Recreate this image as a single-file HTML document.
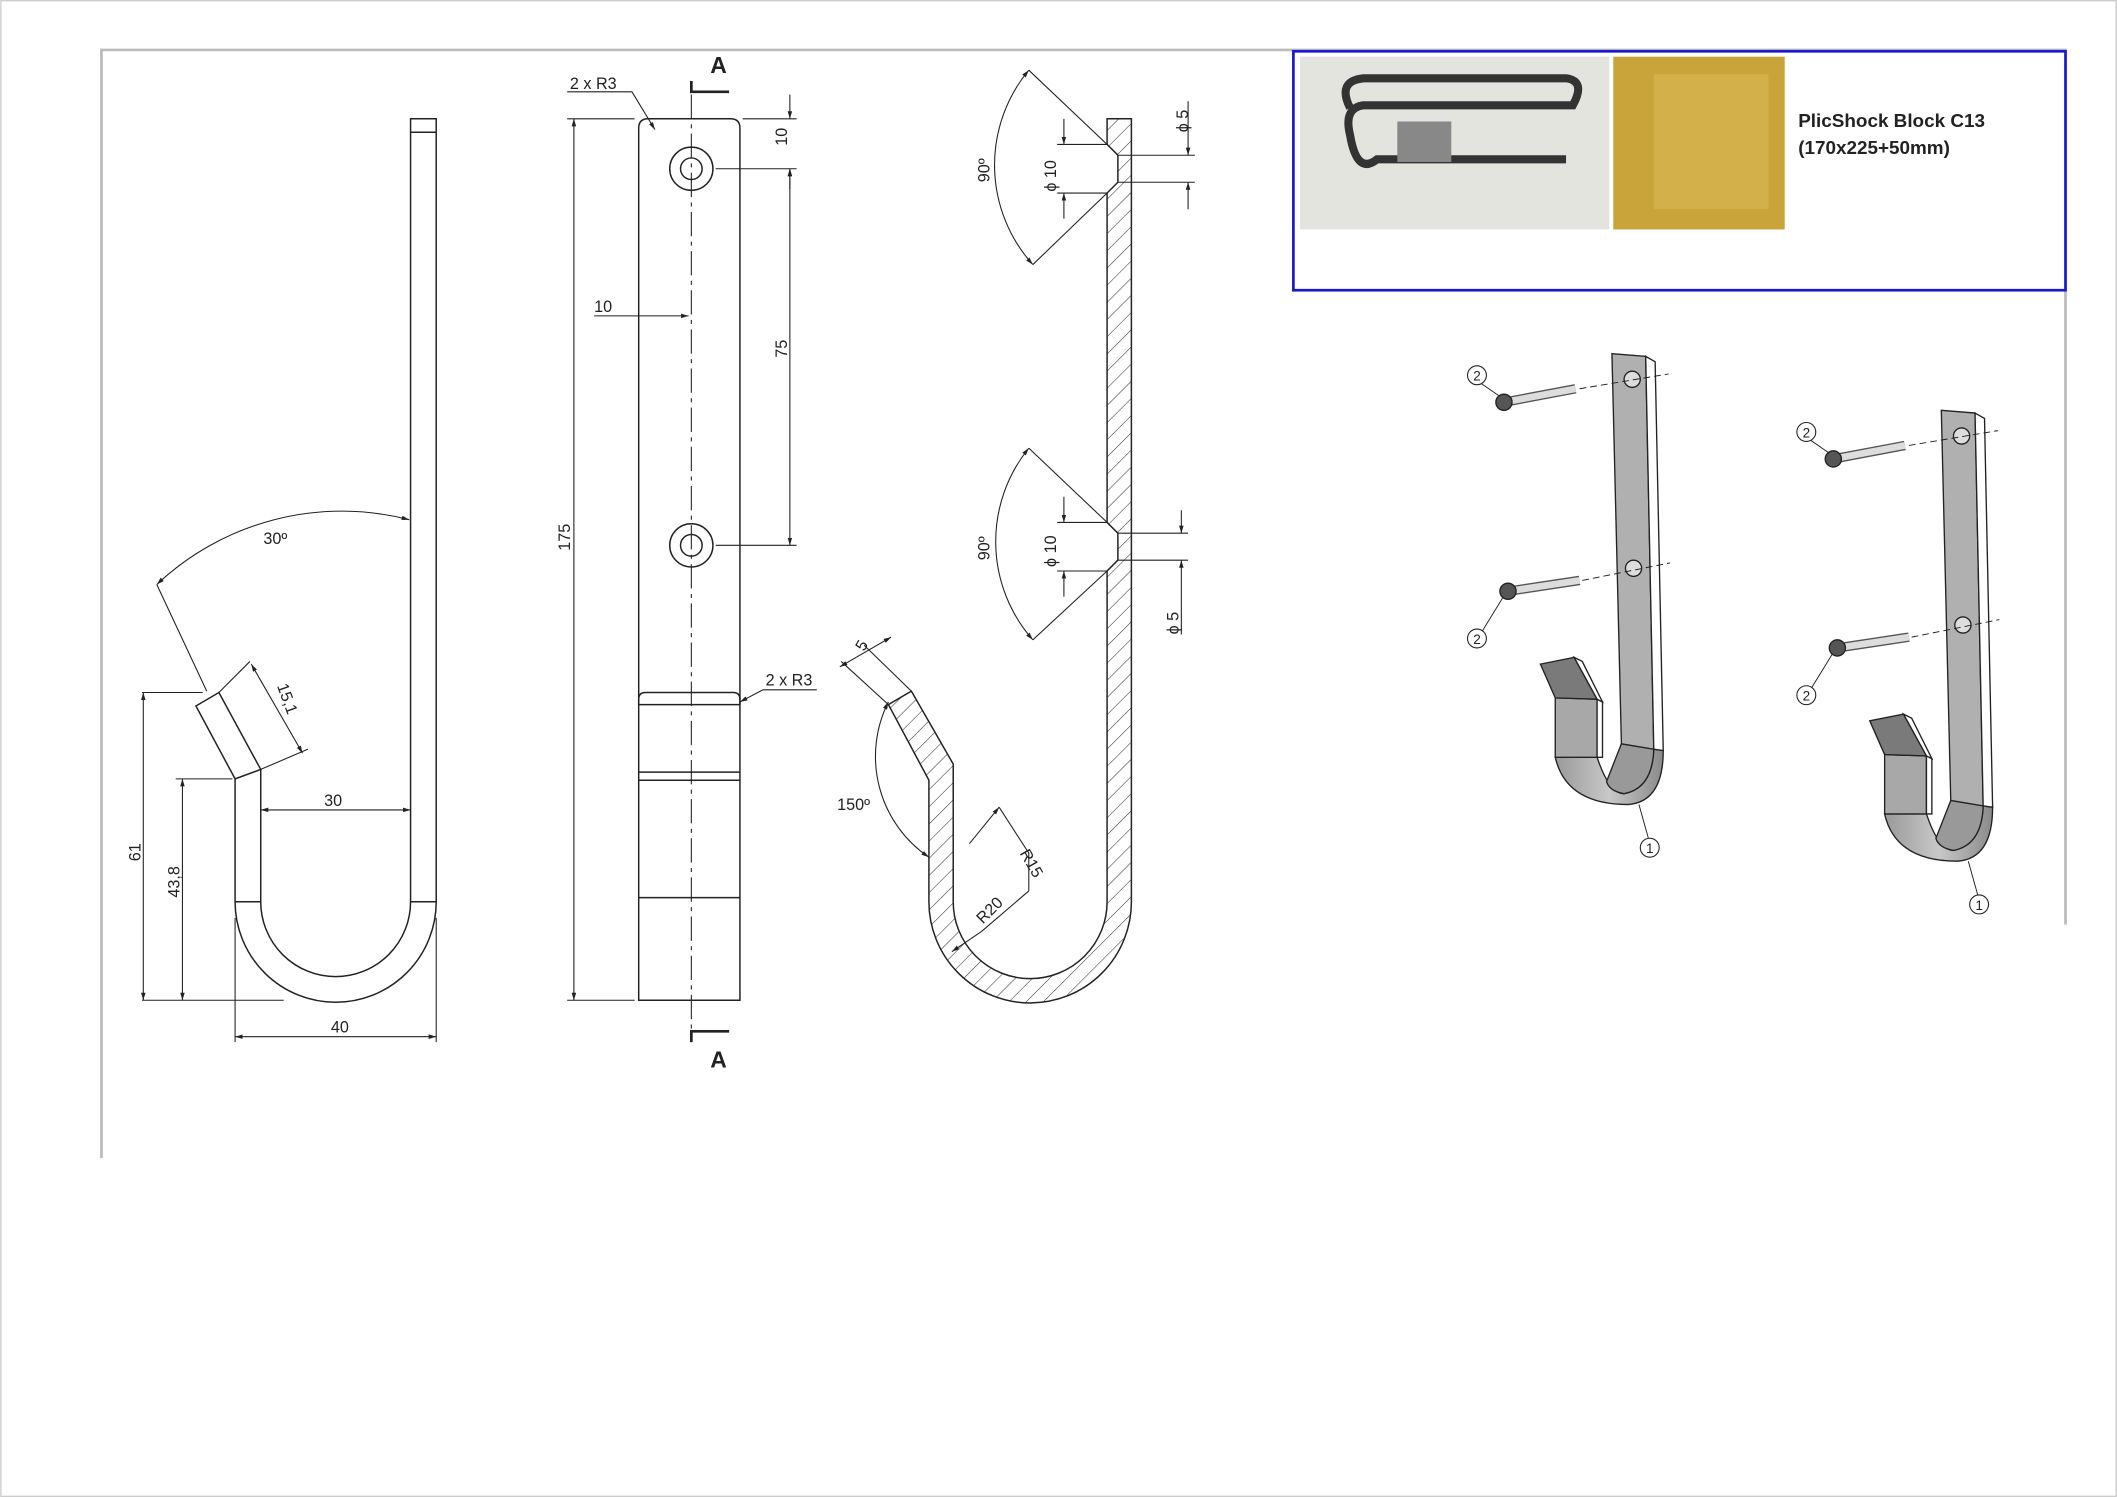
<!DOCTYPE html>
<html><head><meta charset="utf-8"><style>
html,body{margin:0;padding:0;background:#fff}
svg{display:block}
text{font-family:"Liberation Sans",sans-serif;fill:#222}
</style></head><body>
<svg width="2117" height="1497" viewBox="0 0 1568 1109" xmlns="http://www.w3.org/2000/svg">
<defs>
<pattern id="h" width="9" height="9" patternUnits="userSpaceOnUse" patternTransform="rotate(45)">
<line x1="0" y1="0" x2="0" y2="9" stroke="#333" stroke-width="0.8"/></pattern>
<marker id="a" viewBox="0 0 10 10" refX="10" refY="5" markerWidth="7" markerHeight="7" orient="auto-start-reverse"><path d="M0,2 L10,5 L0,8z" fill="#222"/></marker>
<linearGradient id="g" x1="0" x2="1"><stop offset="0" stop-color="#999"/><stop offset="0.5" stop-color="#c8c8c8"/><stop offset="1" stop-color="#8a8a8a"/></linearGradient>
</defs>
<rect x="0.5" y="0.5" width="1567" height="1108" fill="#fff" stroke="#ccc"/>
<path d="M75,858 V37 H1530 V685" fill="none" stroke="#bbb" stroke-width="2"/>
<g fill="none" stroke="#222" stroke-width="1.1">
<!-- side view -->
<path d="M304,88 H323 V668 A74.5,74.5 0 0 1 174,668 V577 L145,523 L162,513 L193,570 V668 A55.5,55.5 0 0 0 304,668 Z"/>
<line x1="304" y1="98" x2="323" y2="98"/>
<line x1="174" y1="577" x2="193" y2="570"/>
<line x1="174" y1="668" x2="193" y2="668"/><line x1="304" y1="668" x2="323" y2="668"/>
<g stroke-width="0.8">
<line x1="105" y1="513" x2="150" y2="513"/><line x1="105" y1="741" x2="210" y2="741"/>
<line x1="106" y1="513" x2="106" y2="741" marker-start="url(#a)" marker-end="url(#a)"/>
<line x1="130" y1="577" x2="172" y2="577"/>
<line x1="135" y1="577" x2="135" y2="741" marker-start="url(#a)" marker-end="url(#a)"/>
<line x1="174" y1="680" x2="174" y2="772"/><line x1="323" y1="680" x2="323" y2="772"/>
<line x1="174" y1="768" x2="323" y2="768" marker-start="url(#a)" marker-end="url(#a)"/>
<line x1="193" y1="600" x2="304" y2="600" marker-start="url(#a)" marker-end="url(#a)"/>
<path d="M116,433 A200,200 0 0 1 303,385" marker-start="url(#a)" marker-end="url(#a)"/>
<line x1="116" y1="433" x2="153" y2="512"/>
<line x1="162" y1="513" x2="185" y2="490"/><line x1="193" y1="570" x2="228" y2="555"/>
<line x1="186" y1="492" x2="224" y2="558" marker-start="url(#a)" marker-end="url(#a)"/>
</g>
<!-- front view -->
<path d="M473,741 V95 Q473,88 480,88 H541 Q548,88 548,95 V741 Z"/>
<circle cx="512" cy="125" r="16"/><circle cx="512" cy="125" r="8"/>
<circle cx="512" cy="404" r="16"/><circle cx="512" cy="404" r="8"/>
<path d="M473,522 V518 Q473,513 478,513 H543 Q548,513 548,518 V522"/>
<line x1="473" y1="522" x2="548" y2="522"/><line x1="473" y1="572" x2="548" y2="572"/><line x1="473" y1="578" x2="548" y2="578"/><line x1="473" y1="665" x2="548" y2="665"/>
<line x1="512" y1="70" x2="512" y2="770" stroke-dasharray="18,4,3,4" stroke-width="0.8"/>
<g stroke-width="0.8">
<line x1="420" y1="88" x2="470" y2="88"/><line x1="420" y1="741" x2="470" y2="741"/>
<line x1="425" y1="88" x2="425" y2="741" marker-start="url(#a)" marker-end="url(#a)"/>
<line x1="550" y1="88" x2="590" y2="88"/><line x1="530" y1="125" x2="590" y2="125"/><line x1="530" y1="404" x2="590" y2="404"/>
<line x1="585" y1="70" x2="585" y2="88" marker-end="url(#a)"/><line x1="585" y1="140" x2="585" y2="125" marker-end="url(#a)"/>
<line x1="585" y1="125" x2="585" y2="404" marker-start="url(#a)" marker-end="url(#a)"/>
<line x1="440" y1="234" x2="473" y2="234" /><line x1="473" y1="234" x2="510" y2="234" marker-end="url(#a)"/>
<path d="M420,68 H468 L485,96" marker-end="url(#a)"/>
<path d="M605,511 H565 L548,520" marker-end="url(#a)"/>
</g>
<path d="M512,60 V68 H540" stroke-width="2"/><path d="M512,772 V764 H540" stroke-width="2"/>
<!-- section -->
<path d="M820,88 H838 V668 A75,75 0 0 1 688,668 V578 L658,522 L675,512 L706,566 V668 A57,57 0 0 0 820,668 V423 L828,415 V395 L820,387 V143 L828,135 V115 L820,107 Z" fill="url(#h)"/>
<g stroke-width="0.8">
<line x1="828" y1="115" x2="885" y2="115"/><line x1="828" y1="135" x2="885" y2="135"/>
<line x1="880" y1="75" x2="880" y2="115" marker-end="url(#a)"/><line x1="880" y1="155" x2="880" y2="135" marker-end="url(#a)"/>
<line x1="828" y1="395" x2="880" y2="395"/><line x1="828" y1="415" x2="880" y2="415"/>
<line x1="875" y1="378" x2="875" y2="395" marker-end="url(#a)"/><line x1="875" y1="470" x2="875" y2="415" marker-end="url(#a)"/>
<line x1="783" y1="107" x2="820" y2="107"/><line x1="783" y1="143" x2="820" y2="143"/>
<line x1="788" y1="88" x2="788" y2="107" marker-end="url(#a)"/><line x1="788" y1="162" x2="788" y2="143" marker-end="url(#a)"/>
<line x1="783" y1="387" x2="820" y2="387"/><line x1="783" y1="423" x2="820" y2="423"/>
<line x1="788" y1="368" x2="788" y2="387" marker-end="url(#a)"/><line x1="788" y1="442" x2="788" y2="423" marker-end="url(#a)"/>
<line x1="762" y1="52" x2="820" y2="107"/><line x1="765" y1="196" x2="820" y2="143"/>
<path d="M762,52 A110,110 0 0 0 765,196" marker-start="url(#a)" marker-end="url(#a)"/>
<line x1="762" y1="332" x2="820" y2="387"/><line x1="765" y1="474" x2="820" y2="423"/>
<path d="M762,332 A110,110 0 0 0 765,474" marker-start="url(#a)" marker-end="url(#a)"/>
<line x1="658" y1="522" x2="623" y2="490"/><line x1="675" y1="512" x2="640" y2="478"/>
<line x1="622" y1="494" x2="660" y2="472" marker-start="url(#a)" marker-end="url(#a)"/>
<path d="M658,520 A90,90 0 0 0 688,635" marker-start="url(#a)" marker-end="url(#a)"/>
<path d="M740,598 L762,632 V660" /><line x1="762" y1="660" x2="727" y2="690"/>
<line x1="740" y1="598" x2="718" y2="625" marker-start="url(#a)"/>
<line x1="727" y1="690" x2="705" y2="705" marker-end="url(#a)"/>
</g>
</g>
<g font-size="12">
<text x="240" y="597">30</text><text x="245" y="765">40</text>
<text x="195" y="403">30º</text>
<text transform="translate(104,638) rotate(-90)">61</text>
<text transform="translate(133,665) rotate(-90)">43,8</text>
<text transform="translate(205,508) rotate(70)">15,1</text>
<text x="422" y="66">2 x R3</text><text x="567" y="508">2 x R3</text>
<text x="440" y="231">10</text>
<text transform="translate(422,408) rotate(-90)">175</text>
<text transform="translate(583,108) rotate(-90)">10</text>
<text transform="translate(583,265) rotate(-90)">75</text>
<text transform="translate(880,98) rotate(-90)">ϕ 5</text>
<text transform="translate(873,470) rotate(-90)">ϕ 5</text>
<text transform="translate(782,142) rotate(-90)">ϕ 10</text>
<text transform="translate(782,420) rotate(-90)">ϕ 10</text>
<text transform="translate(733,135) rotate(-90)">90º</text>
<text transform="translate(733,415) rotate(-90)">90º</text>
<text x="620" y="600">150º</text>
<text transform="translate(640,483) rotate(-60)">5</text>
<text transform="translate(755,632) rotate(60)">R15</text>
<text transform="translate(728,685) rotate(-45)">R20</text>
</g>
<text x="526" y="54" font-size="17" font-weight="bold">A</text>
<text x="526" y="791" font-size="17" font-weight="bold">A</text>
<!-- blue box -->
<rect x="958" y="38" width="572" height="177" fill="#fff" stroke="#1a1acc" stroke-width="2"/>
<rect x="963" y="42" width="229" height="128" fill="#e4e4de"/>
<path d="M1000,80 Q990,60 1010,58 H1160 Q1175,60 1165,78 H1010 Q995,80 1000,100 Q1005,130 1020,118 H1160" fill="none" stroke="#333" stroke-width="6"/>
<rect x="1035" y="90" width="40" height="30" fill="#888"/>
<rect x="1195" y="42" width="127" height="128" fill="#c9a43a"/>
<rect x="1225" y="55" width="85" height="100" fill="#d4b04a"/>
<text x="1332" y="94" font-size="14" font-weight="bold" fill="#000">PlicShock Block C13</text>
<text x="1332" y="114" font-size="14" font-weight="bold" fill="#000">(170x225+50mm)</text>
<!-- iso hooks -->
<g id="hk" stroke="#222" stroke-width="1">
<path d="M1152,561 Q1160,596 1206,596 Q1232,594 1232,556 L1225,555 Q1224,584 1203,588 Q1192,588 1183,561 Z" fill="url(#g)"/>
<path d="M1201,551 L1225,555 Q1224,584 1203,588 Q1192,586 1190,579 Z" fill="#999"/>
<polygon points="1152,517 1183,518 1183,561 1152,561" fill="#a8a8a8"/>
<polygon points="1183,518 1187,520 1187,561 1183,561" fill="#fff"/>
<polygon points="1141,492 1166,487 1183,518 1152,517" fill="#7a7a7a"/>
<polygon points="1166,487 1172,490 1187,520 1183,518" fill="#fff"/>
<polygon points="1194,262 1219,264 1225,555 1201,551" fill="#b0b0b0"/>
<polygon points="1219,264 1226,268 1232,556 1225,555" fill="#fff"/>
<circle cx="1209" cy="281" r="6" fill="#ddd"/><circle cx="1210" cy="421" r="6" fill="#ddd"/>
<g stroke-width="0.7" stroke-dasharray="5,3"><line x1="1170" y1="288" x2="1236" y2="277"/><line x1="1172" y1="430" x2="1237" y2="417"/></g>
<path d="M1114,298 L1167,288" stroke="#555" stroke-width="7"/><path d="M1114,298 L1167,288" stroke="#ddd" stroke-width="5"/>
<path d="M1117,438 L1170,430" stroke="#555" stroke-width="7"/><path d="M1117,438 L1170,430" stroke="#ddd" stroke-width="5"/>
<circle cx="1114" cy="298" r="6" fill="#555"/><circle cx="1117" cy="438" r="6" fill="#555"/>
<g stroke-width="0.7"><line x1="1097" y1="284" x2="1110" y2="293"/><line x1="1097" y1="469" x2="1113" y2="443"/><line x1="1221" y1="621" x2="1214" y2="596"/></g>
<g fill="#fff" stroke-width="0.8"><circle cx="1094" cy="278" r="7"/><circle cx="1094" cy="473" r="7"/><circle cx="1222" cy="628" r="7"/></g>
<g font-size="10" text-anchor="middle" stroke="none"><text x="1094" y="282">2</text><text x="1094" y="477">2</text><text x="1222" y="632">1</text></g>
</g>
<use href="#hk" transform="translate(244,42)"/>
</svg>
</body></html>
